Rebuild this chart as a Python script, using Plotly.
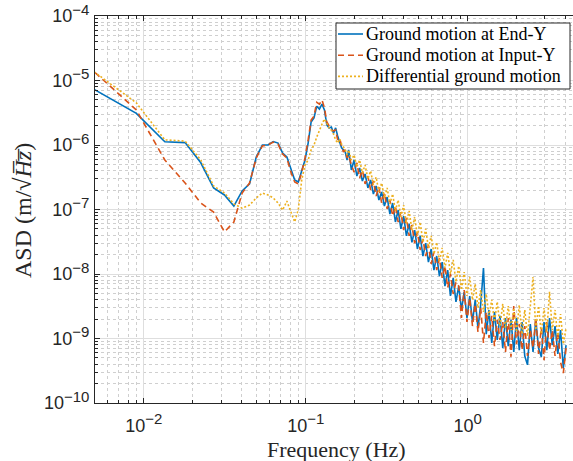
import numpy as np
import plotly.graph_objects as go

# Frequency bins: fine linear bins at low frequency, denser set above ~0.18 Hz
DF = 0.0045
freq_low = [DF * k for k in range(1, 41)]
freq_high = list(np.geomspace(0.184, 4.05, 80))
freq = freq_low + freq_high

# ASD of ground motion at the End-Y station (m/sqrt(Hz))
end_y_low = [8.3e-6, 3.1e-6, 1.12e-6, 1.09e-6, 5.3e-7, 2.16e-7, 1.68e-7, 1.13e-7, 1.94e-7, 2.49e-7,
             6.5e-7, 1.0e-6, 1.0e-6, 1.13e-6, 1.07e-6, 7.5e-7, 6.5e-7, 4.1e-7, 2.87e-7, 2.67e-7,
             4.1e-7, 5.85e-7, 1.07e-6, 2.28e-6, 2.62e-6, 4.0e-6, 3.6e-6, 4.3e-6, 3.5e-6, 2.04e-6,
             1.84e-6, 1.9e-6, 1.53e-6, 1.84e-6, 1.38e-6, 1.07e-6, 9.0e-7, 8.4e-7, 7.8e-7, 5.85e-7]
end_y_high = [8.4e-7, 4.1e-7, 5.85e-7, 3.3e-7, 4.4e-7, 2.77e-7, 3.56e-7, 2.16e-7, 2.87e-7, 1.74e-7,
              2.32e-7, 1.4e-7, 1.87e-7, 1.13e-7, 1.56e-7, 8.5e-8, 1.26e-7, 6.4e-8, 9.8e-8, 5.0e-8,
              7.9e-8, 3.9e-8, 6.0e-8, 3.1e-8, 4.8e-8, 2.44e-8, 3.9e-8, 1.9e-8, 3.0e-8, 1.53e-8,
              2.44e-8, 1.15e-8, 1.9e-8, 9.3e-9, 1.53e-8, 6.5e-9, 1.15e-8, 4.56e-9, 8.7e-9, 3.7e-9,
              6.5e-9, 2.77e-9, 5.3e-9, 2.08e-9, 4.56e-9, 1.8e-9, 3.96e-9, 1.45e-9, 3.43e-9, 1.24e-8,
              1.17e-9, 2.77e-9, 8.5e-10, 2.58e-9, 9.5e-10, 2.24e-9, 7.1e-10, 2.08e-9, 7.6e-10, 1.94e-9,
              6.2e-10, 2.08e-9, 6.6e-10, 1.8e-9, 5.35e-10, 3.9e-10, 1.68e-9, 6.2e-10, 1.94e-9, 7.1e-10,
              5.2e-10, 1.8e-9, 6.6e-10, 2.08e-9, 7.9e-10, 1.56e-9, 5.75e-10, 1.35e-9, 3.5e-10, 7.9e-10]

# ASD of ground motion at the Input-Y station
input_y_low = [1.69e-5, 3.5e-6, 5.85e-7, 2.58e-7, 1.26e-7, 9.1e-8, 4.5e-8, 6.4e-8, 1.8e-7, 2.58e-7,
               6.3e-7, 9.65e-7, 1.0e-6, 1.11e-6, 1.03e-6, 7.25e-7, 6.3e-7, 3.8e-7, 2.67e-7, 2.49e-7,
               3.8e-7, 6.3e-7, 1.2e-6, 2.44e-6, 2.8e-6, 4.6e-6, 4.3e-6, 5.0e-6, 3.75e-6, 2.28e-6,
               1.97e-6, 1.71e-6, 1.65e-6, 1.71e-6, 1.2e-6, 1.28e-6, 9.65e-7, 7.8e-7, 8.4e-7, 6.3e-7]
input_y_high = [7.0e-7, 4.9e-7, 3.8e-7, 5.3e-7, 3.08e-7, 4.1e-7, 2.49e-7, 3.3e-7, 2.0e-7, 2.77e-7,
                1.62e-7, 2.24e-7, 1.26e-7, 1.8e-7, 1.02e-7, 1.4e-7, 7.9e-8, 1.13e-7, 6.4e-8, 9.1e-8,
                4.8e-8, 7.4e-8, 3.9e-8, 5.75e-8, 3.0e-8, 4.5e-8, 2.36e-8, 3.5e-8, 1.9e-8, 2.8e-8,
                1.43e-8, 2.2e-8, 1.15e-8, 1.77e-8, 8.7e-9, 1.33e-8, 6.1e-9, 1.0e-8, 4.9e-9, 7.5e-9,
                6.5e-9, 2.08e-9, 5.65e-9, 1.8e-9, 4.25e-9, 1.56e-9, 3.43e-9, 1.26e-9, 2.97e-9, 8.5e-10,
                2.58e-9, 1.02e-9, 2.24e-9, 7.6e-10, 1.94e-9, 9.5e-10, 1.8e-9, 6.2e-10, 2.08e-9, 5.2e-10,
                3.19e-9, 8.2e-10, 1.68e-9, 6.6e-10, 1.56e-9, 5.35e-10, 1.35e-9, 7.1e-10, 2.08e-9, 5.75e-10,
                1.45e-9, 4.6e-10, 1.8e-9, 6.6e-10, 1.35e-9, 5.35e-10, 1.26e-9, 4.3e-10, 2.9e-10, 7.1e-10]

# ASD of the differential ground motion between the two stations
diff_low = [1.62e-5, 4.5e-6, 1.2e-6, 1.15e-6, 5.85e-7, 2.32e-7, 1.8e-7, 1.22e-7, 1.05e-7, 1.17e-7,
            1.51e-7, 1.8e-7, 1.68e-7, 1.51e-7, 1.26e-7, 9.8e-8, 1.35e-7, 9.1e-8, 6.4e-8, 1.0e-7,
            2.87e-7, 4.9e-7, 5.85e-7, 8.4e-7, 1.0e-6, 1.33e-6, 1.71e-6, 2.1e-6, 2.54e-6, 2.1e-6,
            1.84e-6, 1.71e-6, 1.48e-6, 1.2e-6, 1.07e-6, 1.24e-6, 1.03e-6, 9.3e-7, 8.4e-7, 7.0e-7]
diff_high = [8.4e-7, 5.85e-7, 7.0e-7, 4.56e-7, 5.85e-7, 3.68e-7, 4.9e-7, 2.97e-7, 3.96e-7, 2.4e-7,
             3.19e-7, 1.87e-7, 2.58e-7, 1.51e-7, 2.16e-7, 1.22e-7, 1.74e-7, 9.5e-8, 1.4e-7, 7.65e-8,
             1.17e-7, 6.0e-8, 9.5e-8, 4.8e-8, 7.65e-8, 3.9e-8, 6.4e-8, 3.1e-8, 5.0e-8, 2.54e-8,
             3.9e-8, 2.04e-8, 3.1e-8, 1.53e-8, 2.54e-8, 1.24e-8, 2.12e-8, 1.0e-8, 1.65e-8, 7.5e-9,
             1.33e-8, 5.65e-9, 1.07e-8, 4.56e-9, 9.0e-9, 3.96e-9, 7.0e-9, 2.97e-9, 5.65e-9, 2.58e-9,
             4.9e-9, 2.24e-9, 3.96e-9, 1.8e-9, 3.7e-9, 1.56e-9, 3.43e-9, 1.45e-9, 3.19e-9, 1.35e-9,
             2.97e-9, 1.26e-9, 3.31e-9, 1.17e-9, 2.77e-9, 1.09e-9, 3.7e-9, 9.0e-9, 1.35e-9, 3.19e-9,
             1.17e-9, 2.97e-9, 1.26e-9, 5.3e-9, 1.35e-9, 2.77e-9, 1.02e-9, 2.4e-9, 8.2e-10, 1.45e-9]

series_names = ["Ground motion at End-Y", "Ground motion at Input-Y", "Differential ground motion"]
series_values = [end_y_low + end_y_high, input_y_low + input_y_high, diff_low + diff_high]
series_colors = ["#0072BD", "#D95319", "#EDB120"]
series_dash = ["solid", "6px,4px", "2px,2px"]


def pow10_label(exp):
    sign = "\u2212" if exp < 0 else ""
    return "10<sup><span style='font-size:15px'>%s%d</span></sup>" % (sign, abs(exp))


x_exps = [-2, -1, 0]
y_exps = [-10, -9, -8, -7, -6, -5, -4]
x_ticks = [10.0 ** e for e in x_exps]
y_ticks = [10.0 ** e for e in y_exps]
x_ticktext = [pow10_label(e) for e in x_exps]
y_ticktext = [pow10_label(e) for e in y_exps]

AX = "#262626"
SERIF = "Liberation Serif, Times New Roman, serif"
x_minor = [m * 10.0 ** e for e in range(-3, 1) for m in range(2, 10)]
x_minor = [v for v in x_minor if 0.005 <= v <= 4.47]
y_minor = [m * 10.0 ** e for e in range(-10, -4) for m in range(2, 10)]

fig = go.Figure()
for name, vals, color, dash in zip(series_names, series_values, series_colors, series_dash):
    fig.add_trace(go.Scatter(x=freq, y=vals, mode="lines", name=name, showlegend=False,
                             line=dict(color=color, width=1.6, dash=dash)))

axis_common = dict(
    type="log", ticks="inside", ticklen=5, tickwidth=1, tickcolor=AX,
    showline=True, linecolor=AX, linewidth=1,
    showgrid=True, gridcolor="#DEDEDE", gridwidth=1, zeroline=False,
    tickfont=dict(family="Liberation Sans, Arial, sans-serif", size=18, color=AX),
)
minor_common = dict(tickmode="array", ticks="inside", ticklen=3, tickcolor=AX,
                    showgrid=True, gridcolor="#CFCFCF", griddash="dot", gridwidth=1)


# Legend box drawn in paper coordinates (top-right corner of the axes)
def px_x(p):
    return (p - 95) / 478.0


def px_y(p):
    return (403 - p) / 387.0


shapes = [dict(type="rect", xref="paper", yref="paper", layer="above",
               x0=px_x(336), x1=px_x(570), y0=px_y(89), y1=px_y(23),
               fillcolor="white", line=dict(color=AX, width=1))]
annotations = []
for row, (name, color, dash) in enumerate(zip(series_names, series_colors, series_dash)):
    yc = px_y(34 + 21.2 * row)
    shapes.append(dict(type="line", xref="paper", yref="paper", layer="above",
                       x0=px_x(338), x1=px_x(363), y0=yc, y1=yc,
                       line=dict(color=color, width=1.6, dash=dash)))
    annotations.append(dict(text=name, xref="paper", yref="paper", x=px_x(364), y=yc,
                            xanchor="left", yanchor="middle", showarrow=False,
                            font=dict(family=SERIF, size=18, color="black")))

annotations += [
    dict(text="Frequency (Hz)", xref="paper", yref="paper", x=0.505, y=px_y(449),
         xanchor="center", yanchor="middle", showarrow=False,
         font=dict(family=SERIF, size=22, color=AX)),
    dict(text="ASD (m/\u221a<i>H\u0305z\u0305</i>)", xref="paper", yref="paper",
         x=px_x(23), y=px_y(211), xanchor="center", yanchor="middle", textangle=-90,
         showarrow=False, font=dict(family=SERIF, size=24, color=AX)),
]

fig.update_layout(
    width=573, height=461,
    margin=dict(l=95, r=0, t=16, b=58),
    paper_bgcolor="white", plot_bgcolor="white",
    showlegend=False,
    xaxis=dict(**axis_common, range=[np.log10(0.005), np.log10(4.47)],
               tickmode="array", tickvals=x_ticks, ticktext=x_ticktext, mirror="ticks",
               ticklabelstandoff=6,
               minor=dict(**minor_common, tickvals=x_minor)),
    yaxis=dict(**axis_common, range=[-10, -4],
               tickmode="array", tickvals=y_ticks, ticktext=y_ticktext,
               ticklabelstandoff=1,
               minor=dict(**minor_common, tickvals=y_minor)),
    shapes=shapes,
    annotations=annotations,
)

fig.write_html("out.html")
